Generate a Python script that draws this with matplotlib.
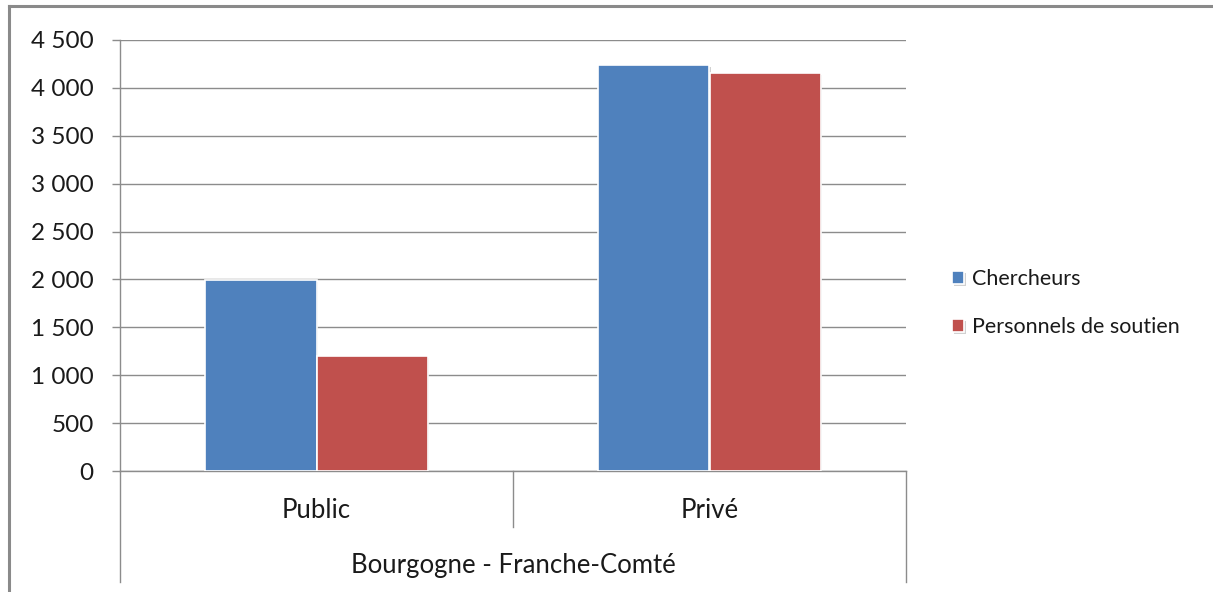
import matplotlib
matplotlib.use("Agg")
import matplotlib.pyplot as plt
import matplotlib.transforms as mtransforms
from matplotlib import patheffects
from matplotlib.lines import Line2D

plt.rcParams['font.family'] = ['Lato', 'DejaVu Sans']

categories = ["Public", "Privé"]
group_label = "Bourgogne - Franche-Comté"
series_names = ["Chercheurs", "Personnels de soutien"]
chercheurs = [1990, 4240]
soutien = [1200, 4155]
colors = ["#4F81BD", "#C0504D"]
yticks = [0, 500, 1000, 1500, 2000, 2500, 3000, 3500, 4000, 4500]
ytick_labels = ["0", "500", "1 000", "1 500", "2 000", "2 500", "3 000",
                "3 500", "4 000", "4 500"]

W, H = 1213, 592
fig = plt.figure(figsize=(W / 100, H / 100), dpi=100)
fig.patch.set_facecolor("white")

left, right, top, bottom = 120, 906, 40, 471
ax = fig.add_axes([left / W, 1 - bottom / H, (right - left) / W, (bottom - top) / H])

grid_color = "#8c8c8c"
text_color = "#1a1a1a"
x = list(range(len(categories)))
bw = 0.283
shadow = [patheffects.SimplePatchShadow(offset=(1.2, -1.2), shadow_rgbFace="#000000", alpha=0.18),
          patheffects.Normal()]
b1 = ax.bar([i - bw / 2 for i in x], chercheurs, width=bw, color=colors[0],
            edgecolor="white", linewidth=1.2, zorder=3, label=series_names[0])
b2 = ax.bar([i + bw / 2 for i in x], soutien, width=bw, color=colors[1],
            edgecolor="white", linewidth=1.2, zorder=3, label=series_names[1])
for b in list(b1) + list(b2):
    b.set_path_effects(shadow)

ax.set_xlim(-0.5, 1.5)
ax.set_ylim(0, 4500)
ax.set_yticks(yticks)
ax.set_yticklabels(ytick_labels)
ax.set_xticks([])
ax.yaxis.grid(True, color=grid_color, linewidth=1.0, zorder=0)
ax.set_axisbelow(True)
for s in ["top", "right", "bottom"]:
    ax.spines[s].set_visible(False)
ax.spines["left"].set_color(grid_color)
ax.spines["left"].set_linewidth(1.0)
ax.tick_params(axis="y", length=6, width=1.0, color=grid_color, pad=13,
               labelsize=17.5, labelcolor=text_color)

# category axis lines below the plot
trans = mtransforms.blended_transform_factory(ax.transData, ax.transAxes)
ph = bottom - top
y_low = -(582 - bottom) / ph
y_mid = -(527 - bottom) / ph
ax.add_line(Line2D([-0.5, 1.5], [0, 0], transform=trans, color=grid_color, lw=1.0, clip_on=False))
ax.add_line(Line2D([-0.5, -0.5], [0, y_low], transform=trans, color=grid_color, lw=1.0, clip_on=False))
ax.add_line(Line2D([1.5, 1.5], [0, y_low], transform=trans, color=grid_color, lw=1.0, clip_on=False))
ax.add_line(Line2D([0.5, 0.5], [0, y_mid], transform=trans, color=grid_color, lw=1.0, clip_on=False))

for i, c in zip(x, categories):
    ax.text(i, -(510 - bottom) / ph, c, transform=trans, ha="center", va="center",
            fontsize=18.5, color=text_color)
ax.text(0.5, -(566 - bottom) / ph, group_label, transform=trans, ha="center", va="center",
        fontsize=18.5, color=text_color)

# legend
fig.legend(handles=[b1, b2], labels=series_names, loc="center left",
           bbox_to_anchor=(933 / W, 1 - 303 / H), frameon=False, fontsize=15.5,
           handlelength=0.55, handleheight=0.55, handletextpad=0.35,
           labelspacing=1.3, labelcolor=text_color)

# outer frame
fig.add_artist(Line2D([9 / W, 1], [1 - 6 / H, 1 - 6 / H], transform=fig.transFigure,
                      color="#8a8a8a", lw=2.2))
fig.add_artist(Line2D([9 / W, 9 / W], [1 - 6 / H, 0], transform=fig.transFigure,
                      color="#8a8a8a", lw=2.2))

fig.savefig("out.png", dpi=100, facecolor="white")
